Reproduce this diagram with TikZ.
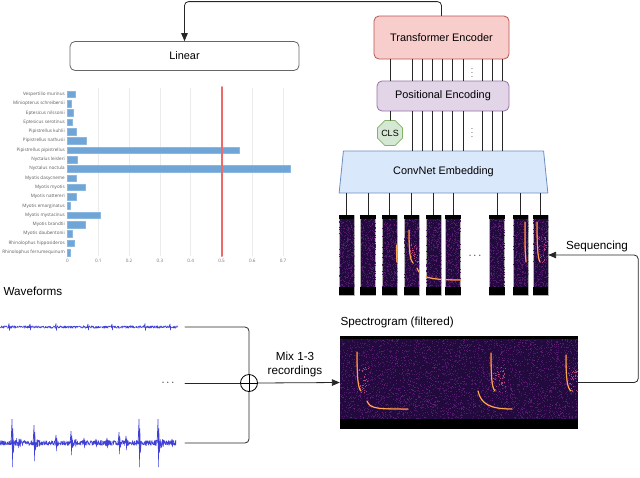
\documentclass[tikz,border=0pt]{standalone}
\usepackage{fontspec}
\setmainfont{Liberation Sans}
\newfontfamily\chartfont{Open Sans}
\usetikzlibrary{arrows,shapes.geometric,calc}

\definecolor{trafofill}{HTML}{F8CECC}
\definecolor{trafodraw}{HTML}{B85450}
\definecolor{posfill}{HTML}{E1D5E7}
\definecolor{posdraw}{HTML}{9673A6}
\definecolor{clsfill}{HTML}{D5E8D4}
\definecolor{clsdraw}{HTML}{82B366}
\definecolor{convfill}{HTML}{DAE8FC}
\definecolor{convdraw}{HTML}{6C8EBF}
\definecolor{specbg}{RGB}{34,10,62}
\definecolor{specdot}{RGB}{78,24,104}
\definecolor{specdotb}{RGB}{104,32,116}
\definecolor{glowdot}{RGB}{180,66,118}
\definecolor{callorange}{RGB}{235,110,60}
\definecolor{callyellow}{RGB}{255,200,90}
\definecolor{wavecol}{RGB}{64,64,215}
\definecolor{barcol}{RGB}{111,165,215}
\definecolor{limitred}{RGB}{240,105,105}

% random speckle inside a box: x1,y1,x2,y2,count,colour
\newcommand{\specnoise}[6]{%
  \foreach \k in {1,...,#5}{%
    \pgfmathsetmacro{\nx}{(#1)+rnd*((#3)-(#1))}%
    \pgfmathsetmacro{\ny}{(#2)+rnd*((#4)-(#2))}%
    \fill[#6] (\nx,\ny) rectangle ++(1,1);%
  }%
}

% calls seen through the sequence windows
\newcommand{\patchcalls}{%
  \specnoise{410}{242}{418}{263}{30}{glowdot}
  \specnoise{538}{236}{547}{263}{30}{glowdot}
  \draw[call] (396.5,245) -- (396.8,262);
  \draw[call] (409,230) .. controls (409,252) and (410,260) .. (413,263);
  \draw[call] (417,268) .. controls (420,277) and (428,280) .. (462,280);
  \draw[call] (525,222) .. controls (525,250) .. (526,262);
  \draw[call] (537,222) .. controls (537,250) and (538,258) .. (540,262);
}

\begin{document}
\begin{tikzpicture}[x=1pt,y=-1pt,line cap=round,line join=round,>=triangle 45,
  font=\fontsize{10.9}{13}\selectfont,
  link/.style={draw=black!85,line width=0.8pt},
  lbl/.style={font=\fontsize{11.7}{14}\selectfont},
  block/.style={draw,rounded corners=5pt,line width=0.8pt,inner sep=0pt},
  patch/.style={draw=gray!60,line width=0.5pt,fill=specbg,inner sep=0pt,minimum width=15pt,minimum height=80pt},
  call/.style={draw=callorange,line width=0.4pt,double=callyellow,double distance=0.5pt},
  bar/.style={fill=barcol,draw=barcol!80!white,line width=0.3pt},
  barlabel/.style={font=\chartfont\fontsize{4.6}{5}\selectfont,text=black!65,anchor=east,inner sep=0pt},
  ticklabel/.style={font=\chartfont\fontsize{4.6}{5}\selectfont,text=black!55,inner sep=0pt},
  chartgrid/.style={draw=black!8,line width=0.5pt},
  wave/.style={draw=wavecol,line width=0.5pt},
  smalldots/.style={font=\fontsize{7}{8}\selectfont,inner sep=0pt},
  mixer/.style={circle,draw,line width=0.8pt,fill=white,minimum size=17pt,inner sep=0pt,
    path picture={\draw[line width=0.8pt] (path picture bounding box.north) -- (path picture bounding box.south)
      (path picture bounding box.west) -- (path picture bounding box.east);}}]
\useasboundingbox (0,0) rectangle (640,477);
\pgfmathsetseed{42}

% classifier output
\foreach \t in {1,...,7}{
  \draw[chartgrid] (67.5+30.8*\t,88) -- (67.5+30.8*\t,256);
  \node[ticklabel] at (67.5+30.8*\t,261) {0.\t};
}
\node[ticklabel] at (67.5,261) {0};
\foreach \sname/\sval [count=\i from 0] in {Vespertilio murinus/0.024, Miniopterus schreibersii/0.012,
    Eptesicus nilssonii/0.018, Eptesicus serotinus/0.016, Pipistrellus kuhlii/0.028,
    Pipistrellus nathusii/0.061, Pipistrellus pipistrellus/0.556, Nyctalus leisleri/0.032,
    Nyctalus noctula/0.724, Myotis dasycneme/0.028, Myotis myotis/0.057, Myotis nattereri/0.028,
    Myotis emarginatus/0.009, Myotis mystacinus/0.106, Myotis brandtii/0.057,
    Myotis daubentonii/0.016, Rhinolophus hipposideros/0.023, Rhinolophus ferrumequinum/0.008}{
  \pgfmathsetmacro{\by}{94.3+9.3*\i}
  \path[bar] (67.5,\by-3.3) rectangle (67.5+308*\sval,\by+3.3);
  \node[barlabel] at (65,\by) {\sname};
}
\draw[limitred,line width=2pt] (221.5,87) -- (221.5,256);

% model
\node[block,draw=black!60,minimum width=229pt,minimum height=29pt] (linear) at (184.5,56) {Linear};
\node[block,fill=trafofill,draw=trafodraw,minimum width=135pt,minimum height=43pt] (trafo) at (441.5,37.5) {Transformer Encoder};
\node[block,fill=posfill,draw=posdraw,minimum width=132pt,minimum height=30pt] (posenc) at (443,96) {Positional Encoding};
\node[regular polygon,regular polygon sides=8,fill=clsfill,draw=clsdraw,line width=0.8pt,
  minimum size=27pt,inner sep=0pt,font=\fontsize{9}{10}\selectfont] (cls) at (390,133) {CLS};
\node[trapezium,trapezium angle=78,trapezium stretches=true,fill=convfill,draw=convdraw,line width=0.8pt,
  minimum width=209pt,minimum height=42pt,inner sep=0pt] (conv) at (443.5,172) {ConvNet Embedding};

\foreach \lx in {390,412,422,432,442,452,463,482,492,502}
  \draw[link] (\lx,0 |- trafo.south) -- (\lx,0 |- posenc.north);
\foreach \lx in {412,422,432,442,452,463,482,492,502}
  \draw[link] (\lx,0 |- posenc.south) -- (\lx,0 |- conv.north);
\draw[link] (cls.north |- posenc.south) -- (cls.north);
\node[smalldots] (dotsa) at (472,70) {$\vdots$};
\node[smalldots] (dotsb) at (472,130) {$\vdots$};

\draw[link,->,rounded corners=4pt] (trafo.north) -- ++(0,-14) -| (linear.north);

% sequence windows
\foreach \px [count=\i] in {346.5,368,389.5,411.5,433.5,453,497,520.5,540.5}{
  \node[patch] (patch\i) at (\px,255) {};
  \begin{scope}
    \clip (patch\i.south west) rectangle (patch\i.north east);
    \specnoise{\px-7.5}{219}{\px+7.5}{287}{260}{specdot}
    \specnoise{\px-7.5}{219}{\px+7.5}{287}{40}{specdotb}
    \patchcalls
  \end{scope}
  \fill[black] (patch\i.north west) rectangle ($(patch\i.north east)+(0,4)$);
  \fill[black] (patch\i.south west) rectangle ($(patch\i.south east)+(0,-8)$);
  \draw[link] (patch\i.north) -- (patch\i.north |- conv.south);
}
\node (patchdots) at (475,256) {$\cdots$};

% full spectrogram
\node[lbl,anchor=west] (speclabel) at (337,322) {Spectrogram (filtered)};
\node[fill=specbg,inner sep=0pt,minimum width=238pt,minimum height=93pt] (spec) at (459,382.5) {};
\begin{scope}
  \clip (spec.south west) rectangle (spec.north east);
  \specnoise{340}{339}{578}{419}{2800}{specdot}
  \specnoise{340}{339}{578}{419}{400}{specdotb}
  \specnoise{359}{366}{368}{392}{35}{glowdot}
  \specnoise{493}{366}{505}{392}{45}{glowdot}
  \specnoise{568}{368}{578}{392}{40}{glowdot}
  \draw[call] (357,352) .. controls (357,378) and (358,388) .. (361,391);
  \draw[call] (367,401) .. controls (370,409) and (378,409) .. (408,409);
  \draw[call] (491,353) .. controls (491,378) and (492,388) .. (495,391);
  \draw[call] (478,391) .. controls (481,404) and (490,409) .. (512,409);
  \draw[call] (566,355) .. controls (566,378) and (567,388) .. (571,391);
  \fill[black] (340,336) rectangle (578,339);
  \fill[black] (340,419) rectangle (578,429);
\end{scope}

\draw[link,->,rounded corners=4pt] (spec.east) -- ++(60,0) |- (patch9.east);
\node[lbl] (seqlabel) at (597,246) {Sequencing};

% waveforms
\node[lbl,anchor=west] (wavelabel) at (0,291) {Waveforms};
\draw[wave] plot[domain=0:178,samples=600] (\x,{327+1.3*rand});
\foreach \c/\h in {9/3.5,30/3,56/3.5,88/3,112/3,145/3.5,170/3}
  \draw[wave] (\c-1,327) -- (\c,327-\h) -- (\c+0.4,327+\h) -- (\c+1,327);
\draw[wave] plot[domain=0:176,samples=700] (\x,{443+rand*(2.6+3.5*max(0,1-abs(\x-17)/6)+2*max(0,1-abs(\x-37)/4)
  +2*max(0,1-abs(\x-75)/4)+3*max(0,1-abs(\x-160)/5)+1.5*max(0,1-abs(\x-108)/3))});
\foreach \c/\h in {12/24,34/18,56/8,71/12,84/5,96/4,107/5,119/11,126/7,139/24,158/24,172/4}
  \draw[wave] (\c-1,443) -- (\c,443-\h) -- (\c+0.4,443+\h) -- (\c+0.9,443-0.6*\h) -- (\c+1.4,443+0.4*\h) -- (\c+2.2,443);
\node (wavedots) at (168,383) {$\cdots$};
\coordinate (wave1) at (185,327);
\coordinate (wave2) at (185,383);
\coordinate (wave3) at (185,443);

\node[mixer] (mix) at (249,383) {};
\draw[link,rounded corners=4pt] (wave1) -| (mix.north);
\draw[link,rounded corners=4pt] (wave3) -| (mix.south);
\draw[link] (wave2) -- (mix.west);
\draw[link,->] (mix.east) -- (spec.west);
\node[lbl,align=center] (mixlabel) at (295,364) {Mix 1-3\\recordings};
\end{tikzpicture}
\end{document}
